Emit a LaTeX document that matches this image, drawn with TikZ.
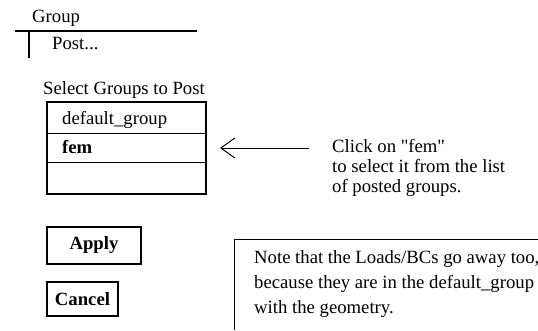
\documentclass[tikz,border=0pt]{standalone}
\usepackage{fontspec}
\setmainfont{Liberation Serif}[Ligatures=TeXOff]
\usetikzlibrary{arrows.meta}
\tikzset{
  txt/.style={anchor=base west, inner sep=0pt, font=\fontsize{18.7}{22}\selectfont},
  btxt/.style={inner sep=0pt, font=\fontsize{18.7}{22}\selectfont\bfseries},
  thick line/.style={line width=1.6pt},
  thin line/.style={line width=1pt},
}
\begin{document}
\begin{tikzpicture}[x=1pt,y=-1pt]
\useasboundingbox (0,0) rectangle (538,330);
% menu
\node[txt] (group) at (32,22) {Group};
\coordinate (mL) at (15,31);
\coordinate (mR) at (197,31);
\draw[thick line] (mL) -- (mR);
\coordinate (vT) at (29,31);
\coordinate (vB) at (29,58);
\draw[thick line] (vT) -- (vB);
\node[txt] (post) at (52,49) {Post...};
% list
\node[txt] (sel) at (43,94) {Select Groups to Post};
\coordinate (b1) at (47,102);
\coordinate (b2) at (206,194);
\draw[thin line] (47,133) -- (206,133);
\draw[thin line] (47,162) -- (206,162);
\draw[thick line] (b1) rectangle (b2);
\node[txt] (def) at (62,124) {default\_group};
\node[txt,font=\fontsize{18.7}{22}\selectfont\bfseries] (fem) at (62,153) {fem};
% arrow
\coordinate (aS) at (309,148);
\coordinate (aE) at (220,148);
\draw[thin line, -{Straight Barb[length=14pt,width=20pt,line width=1pt]}] (aS) -- (aE);
\node[txt] (c1) at (332,152) {Click on "fem"};
\node[txt] (c2) at (332,172) {to select it from the list};
\node[txt] (c3) at (332,192) {of posted groups.};
% buttons
\draw[thick line] (47,227) rectangle (141,264);
\node[btxt] (apply) at (94,245.5) {Apply};
\draw[thick line] (47,282) rectangle (118,316);
\node[btxt] (cancel) at (82.5,299) {Cancel};
% note
\draw[thin line] (538,239) -- (234,239) -- (234,330);
\node[txt] (n1) at (254,263) {Note that the Loads/BCs go away too,};
\node[txt] (n2) at (254,288) {because they are in the default\_group};
\node[txt] (n3) at (254,313) {with the geometry.};
\end{tikzpicture}
\end{document}
